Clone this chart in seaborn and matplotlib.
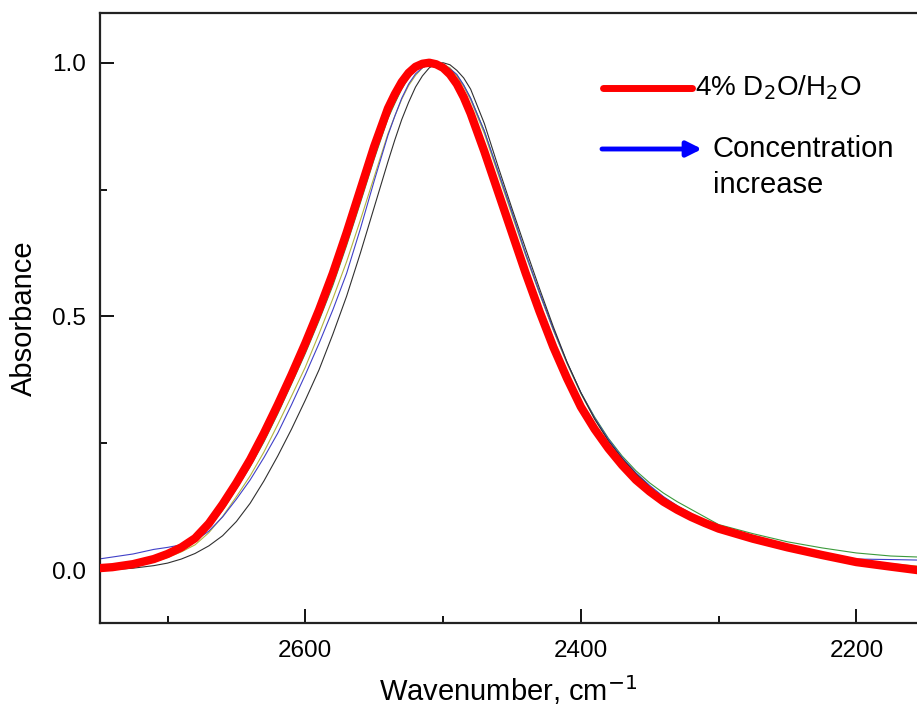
import matplotlib
matplotlib.use('Agg')
import matplotlib.pyplot as plt
import seaborn as sns
import pandas as pd

# wavenumber grid (cm-1)
wavenumber = [2750, 2740, 2725, 2710, 2700, 2690, 2680, 2670, 2660, 2650, 2640, 2630, 2620,
              2610, 2600, 2590, 2580, 2570, 2560, 2550, 2540, 2535, 2530, 2525, 2520, 2515,
              2510, 2505, 2500, 2495, 2490, 2485, 2480, 2470, 2460, 2450, 2440, 2430, 2420,
              2410, 2400, 2390, 2380, 2370, 2360, 2350, 2340, 2330, 2320, 2310, 2300,
              2275, 2250, 2225, 2200, 2175, 2155]

# 4% D2O/H2O (thick red)
red = [0.004, 0.006, 0.012, 0.022, 0.032, 0.045, 0.063, 0.092, 0.130, 0.172, 0.218, 0.270, 0.326,
       0.385, 0.447, 0.513, 0.585, 0.665, 0.750, 0.835, 0.910, 0.938, 0.962, 0.980, 0.992, 0.998,
       1.000, 0.997, 0.990, 0.977, 0.958, 0.932, 0.900, 0.825, 0.745, 0.665, 0.585, 0.510, 0.440,
       0.378, 0.322, 0.278, 0.240, 0.207, 0.178, 0.155, 0.135, 0.119, 0.105, 0.093, 0.082,
       0.062, 0.045, 0.030, 0.016, 0.007, 0.000]

green = [0.003, 0.005, 0.010, 0.019, 0.028, 0.040, 0.057, 0.083, 0.118, 0.160, 0.204, 0.253, 0.308,
         0.367, 0.427, 0.492, 0.561, 0.640, 0.724, 0.810, 0.890, 0.920, 0.948, 0.970, 0.985, 0.995,
         0.999, 0.999, 0.996, 0.988, 0.975, 0.955, 0.930, 0.865, 0.785, 0.705, 0.623, 0.547, 0.475,
         0.409, 0.350, 0.302, 0.260, 0.225, 0.196, 0.172, 0.152, 0.135, 0.120, 0.105, 0.090,
         0.072, 0.056, 0.044, 0.034, 0.028, 0.026]

olive = [0.002, 0.004, 0.008, 0.016, 0.025, 0.036, 0.050, 0.074, 0.106, 0.145, 0.186, 0.233, 0.287,
         0.343, 0.400, 0.466, 0.535, 0.608, 0.690, 0.775, 0.860, 0.895, 0.928, 0.955, 0.975, 0.990,
         0.997, 1.000, 0.997, 0.990, 0.974, 0.953, 0.927, 0.860, 0.780, 0.700, 0.620, 0.545, 0.473,
         0.407, 0.348, 0.298, 0.255, 0.220, 0.190, 0.165, 0.143, 0.124, 0.108, 0.095, 0.083,
         0.062, 0.046, 0.032, 0.020, 0.013, 0.008]

blue = [0.022, 0.026, 0.032, 0.041, 0.045, 0.050, 0.058, 0.077, 0.105, 0.140, 0.178, 0.222, 0.270,
        0.326, 0.385, 0.447, 0.513, 0.585, 0.673, 0.767, 0.857, 0.895, 0.930, 0.958, 0.978, 0.990,
        0.997, 1.000, 0.996, 0.988, 0.977, 0.956, 0.930, 0.865, 0.785, 0.705, 0.623, 0.547, 0.475,
        0.409, 0.350, 0.300, 0.258, 0.222, 0.192, 0.167, 0.145, 0.127, 0.112, 0.098, 0.085,
        0.066, 0.048, 0.034, 0.022, 0.021, 0.020]

black = [0.000, 0.001, 0.004, 0.009, 0.014, 0.022, 0.033, 0.048, 0.068, 0.096, 0.132, 0.176, 0.225,
         0.278, 0.335, 0.395, 0.465, 0.540, 0.625, 0.715, 0.805, 0.848, 0.888, 0.922, 0.952, 0.974,
         0.990, 0.998, 1.000, 0.996, 0.985, 0.970, 0.948, 0.880, 0.795, 0.713, 0.633, 0.555, 0.480,
         0.410, 0.350, 0.298, 0.255, 0.220, 0.190, 0.164, 0.141, 0.123, 0.108, 0.095, 0.083,
         0.062, 0.045, 0.030, 0.017, 0.009, 0.005]

thin_series = {'green': (green, '#3c9a3c'),
               'olive': (olive, '#b4b43c'),
               'blue': (blue, '#4040c8'),
               'black': (black, '#303030')}

sns.set_style('ticks', {'text.color': 'black', 'axes.labelcolor': 'black',
                        'xtick.color': 'black', 'ytick.color': 'black'})
plt.rcParams['font.family'] = ['Liberation Sans', 'DejaVu Sans']

fig = plt.figure(figsize=(9.17, 7.17), dpi=100)
ax = fig.add_axes([100 / 917, 94 / 717, 817 / 917, 610 / 717])

for name, (vals, col) in thin_series.items():
    df = pd.DataFrame({'wn': wavenumber, 'A': vals})
    sns.lineplot(data=df, x='wn', y='A', color=col, lw=0.8, ax=ax, zorder=2)

df_red = pd.DataFrame({'wn': wavenumber, 'A': red})
sns.lineplot(data=df_red, x='wn', y='A', color='#ff0000', lw=6, ax=ax, zorder=3,
             solid_capstyle='butt', solid_joinstyle='round')

ax.set_xlim(2749, 2156)
ax.set_ylim(-0.104, 1.098)
ax.set_xticks([2600, 2400, 2200])
ax.set_xticks([2700, 2500, 2300], minor=True)
ax.set_yticks([0.0, 0.5, 1.0])
ax.set_yticklabels(['0.0', '0.5', '1.0'])
ax.set_yticks([0.25, 0.75], minor=True)
ax.tick_params(which='major', direction='in', length=10, width=1.3, labelsize=17.5, pad=10)
ax.tick_params(which='minor', direction='in', length=5, width=1.3)
ax.tick_params(axis='x', pad=12)
for s in ['left', 'bottom', 'top']:
    ax.spines[s].set_linewidth(1.6)
    ax.spines[s].set_color('#222222')
ax.spines['right'].set_visible(False)

ax.set_xlabel('Wavenumber, cm$^{-1}$', fontsize=21, labelpad=8)
ax.set_ylabel('Absorbance', fontsize=21, labelpad=10)

# legend drawn by hand
fig.lines.append(plt.Line2D([603 / 917, 692 / 917], [1 - 88 / 717, 1 - 88 / 717],
                            transform=fig.transFigure, color='#ff0000', lw=5))
fig.text(695 / 917, 1 - 88 / 717, '4% D$_2$O/H$_2$O', fontsize=20, va='center', ha='left')
ax.annotate('', xy=(702 / 917, 1 - 149 / 717), xytext=(602 / 917, 1 - 149 / 717),
            xycoords='figure fraction', textcoords='figure fraction',
            arrowprops=dict(arrowstyle='-|>,head_length=0.9,head_width=0.45',
                            color='#0000ff', lw=3.5, shrinkA=0, shrinkB=0))
fig.text(713 / 917, 1 - 149 / 717, 'Concentration', fontsize=21, va='center', ha='left')
fig.text(713 / 917, 1 - 185 / 717, 'increase', fontsize=21, va='center', ha='left')

fig.savefig('out.png', dpi=100)
